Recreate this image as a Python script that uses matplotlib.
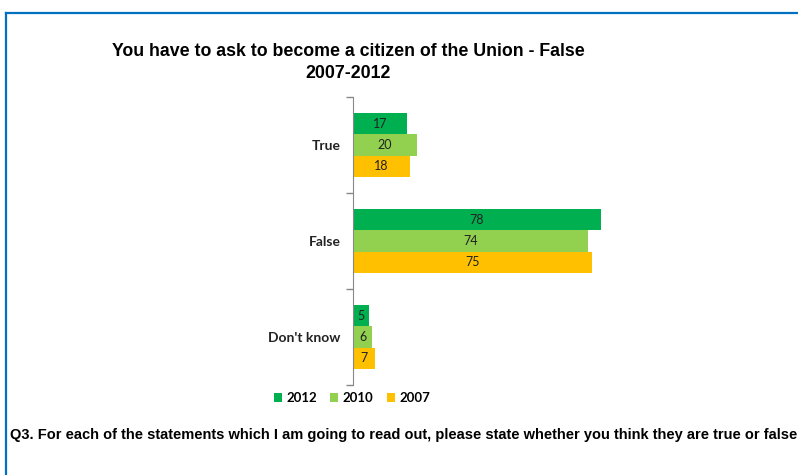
import matplotlib
matplotlib.use("Agg")
from matplotlib import pyplot as plt
from matplotlib.lines import Line2D
import numpy as np

categories = ["True", "False", "Don't know"]
years = ["2012", "2010", "2007"]
values_2012 = [17, 78, 5]
values_2010 = [20, 74, 6]
values_2007 = [18, 75, 7]
colors = ["#00B050", "#92D050", "#FFC000"]

title = "You have to ask to become a citizen of the Union - False\n2007-2012"
note = ("Q3. For each of the statements which I am going to read out, "
        "please state whether you think they are true or false")

fig = plt.figure(figsize=(7.98, 4.75), dpi=100)
W, H = 798, 475


def fit_width(txt, width_px):
    # shrink/grow a text so that it spans the given width in pixels
    r = fig.canvas.get_renderer()
    w = txt.get_window_extent(renderer=r).width
    txt.set_fontsize(txt.get_fontsize() * width_px / w)


# blue frame around the slide
fig.add_artist(Line2D([6 / W, 1.0], [1 - 13 / H, 1 - 13 / H], color="#0070C0", lw=1.6,
                      transform=fig.transFigure))
fig.add_artist(Line2D([6 / W, 6 / W], [1 - 13 / H, 0], color="#0070C0", lw=1.6,
                      transform=fig.transFigure))

ax = fig.add_axes([353 / W, 90 / H, 318 / W, 288 / H])

series = [values_2012, values_2010, values_2007]
y = np.arange(len(categories))
bh = 0.22
for i, vals in enumerate(series):
    pos = y + (i - 1) * bh
    ax.barh(pos, vals, height=bh, color=colors[i], label=years[i])
    for p, v in zip(pos, vals):
        ax.text(v / 2, p, str(v), ha="center", va="center", fontsize=9,
                family=["Lato", "DejaVu Sans"], color="#222222")

ax.set_xlim(0, 100)
ax.set_ylim(2.5, -0.5)
ax.set_xticks([])
ax.set_yticks([-0.5, 0.5, 1.5, 2.5])
ax.set_yticklabels([])
ax.set_yticks(y, minor=True)
ax.set_yticklabels(categories, minor=True, fontsize=10, fontweight="bold",
                   family=["Lato", "DejaVu Sans"], color="#222222")
ax.tick_params(axis="y", which="major", length=5, color="#888888", width=1)
ax.tick_params(axis="y", which="minor", length=0, pad=9)
for s in ["top", "right", "bottom"]:
    ax.spines[s].set_visible(False)
ax.spines["left"].set_color("#888888")

t1 = fig.text(348 / W, 1 - 52 / H, title.split("\n")[0], ha="center", va="center",
              fontsize=12, fontweight="bold", family=["Liberation Sans", "DejaVu Sans"])
fit_width(t1, 469)
t2 = fig.text(348 / W, 1 - 73 / H, title.split("\n")[1], ha="center", va="center",
              fontsize=t1.get_fontsize(), fontweight="bold",
              family=["Liberation Sans", "DejaVu Sans"])

leg = ax.legend(loc="center", bbox_to_anchor=(352 / W, 1 - 398 / H),
                bbox_transform=fig.transFigure, ncol=3, frameon=False,
                handlelength=0.6, handleheight=0.6, handletextpad=0.35, columnspacing=1.0,
                prop={"family": ["Lato", "DejaVu Sans"], "size": 9.5, "weight": "bold"})

tn = fig.text(10 / W, 1 - 435 / H, note, ha="left", va="center", fontsize=10,
              fontweight="bold", family=["Liberation Sans", "DejaVu Sans"])
fit_width(tn, 784)

fig.savefig("out.png", dpi=100)
